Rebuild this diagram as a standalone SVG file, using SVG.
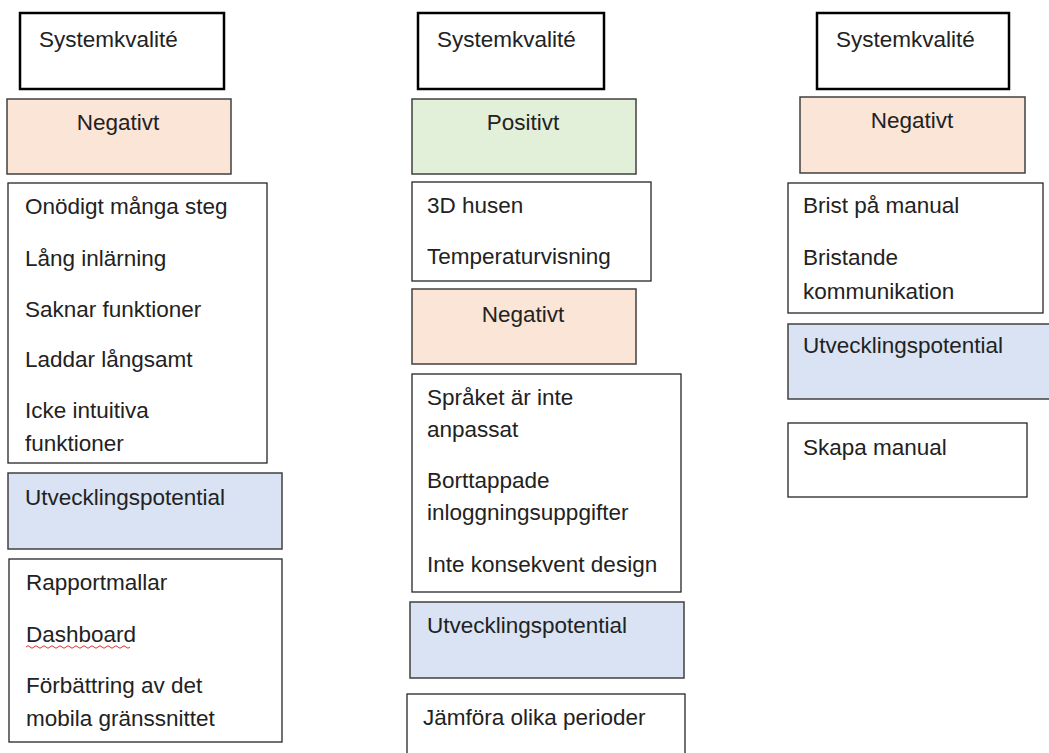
<svg xmlns="http://www.w3.org/2000/svg" width="1049" height="753" viewBox="0 0 1049 753">
<style>
text{font-family:"Liberation Sans",Arial,sans-serif;font-size:22.5px;fill:#222}
.title{fill:#fff;stroke:#000;stroke-width:2.5}
.neg{fill:#FBE5D6;stroke:#404040;stroke-width:1.5}
.pos{fill:#E2F0D9;stroke:#404040;stroke-width:1.5}
.dev{fill:#DAE3F3;stroke:#404040;stroke-width:1.5}
.list{fill:#fff;stroke:#262626;stroke-width:1.3}
.c{text-anchor:middle}
</style>
<rect width="1049" height="753" fill="#fff"/>
<g id="col1">
<g id="c1-title"><rect class="title" x="20" y="13" width="204" height="76"/><text x="39" y="47">Systemkvalité</text></g>
<g id="c1-neg"><rect class="neg" x="7" y="99" width="224" height="75"/><text class="c" x="118" y="130">Negativt</text></g>
<g id="c1-neglist"><rect class="list" x="8" y="183" width="259" height="280"/>
<text x="25" y="214">Onödigt många steg</text>
<text x="25" y="266">Lång inlärning</text>
<text x="25" y="317">Saknar funktioner</text>
<text x="25" y="367">Laddar långsamt</text>
<text x="25" y="418">Icke intuitiva</text>
<text x="25" y="451">funktioner</text></g>
<g id="c1-dev"><rect class="dev" x="8" y="473" width="274" height="76"/><text x="25" y="505">Utvecklingspotential</text></g>
<g id="c1-devlist"><rect class="list" x="9" y="559" width="273" height="183"/>
<text x="26" y="590">Rapportmallar</text>
<text x="26" y="642">Dashboard</text>
<path d="M26 647 q2 -2.5 4 0 t4 0 t4 0 t4 0 t4 0 t4 0 t4 0 t4 0 t4 0 t4 0 t4 0 t4 0 t4 0 t4 0 t4 0 t4 0 t4 0 t4 0 t4 0 t4 0 t4 0 t4 0 t4 0 t4 0 t4 0 t4 0" fill="none" stroke="#e03030" stroke-width="1"/>
<text x="26" y="693">Förbättring av det</text>
<text x="26" y="726">mobila gränssnittet</text></g>
</g>
<g id="col2">
<g id="c2-title"><rect class="title" x="418" y="13" width="186" height="76"/><text x="437" y="47">Systemkvalité</text></g>
<g id="c2-pos"><rect class="pos" x="412" y="99" width="224" height="75"/><text class="c" x="523" y="130">Positivt</text></g>
<g id="c2-poslist"><rect class="list" x="412" y="182" width="239" height="99"/>
<text x="427" y="213">3D husen</text>
<text x="427" y="264">Temperaturvisning</text></g>
<g id="c2-neg"><rect class="neg" x="412" y="289" width="224" height="75"/><text class="c" x="523" y="322">Negativt</text></g>
<g id="c2-neglist"><rect class="list" x="412" y="374" width="269" height="218"/>
<text x="427" y="405">Språket är inte</text>
<text x="427" y="437">anpassat</text>
<text x="427" y="488">Borttappade</text>
<text x="427" y="520">inloggningsuppgifter</text>
<text x="427" y="572">Inte konsekvent design</text></g>
<g id="c2-dev"><rect class="dev" x="410" y="602" width="274" height="76"/><text x="427" y="633">Utvecklingspotential</text></g>
<g id="c2-devlist"><rect class="list" x="407" y="694" width="278" height="70"/>
<text x="423" y="725">Jämföra olika perioder</text></g>
</g>
<g id="col3">
<g id="c3-title"><rect class="title" x="817" y="13" width="192" height="76"/><text x="836" y="47">Systemkvalité</text></g>
<g id="c3-neg"><rect class="neg" x="800" y="97" width="225" height="76"/><text class="c" x="912" y="128">Negativt</text></g>
<g id="c3-neglist"><rect class="list" x="788" y="183" width="255" height="130"/>
<text x="803" y="213">Brist på manual</text>
<text x="803" y="265">Bristande</text>
<text x="803" y="299">kommunikation</text></g>
<g id="c3-dev"><rect class="dev" x="788" y="324" width="262" height="75"/><text x="803" y="353">Utvecklingspotential</text></g>
<g id="c3-devlist"><rect class="list" x="788" y="423" width="239" height="74"/>
<text x="803" y="455">Skapa manual</text></g>
</g>
<g id="connectors"/>
</svg>
